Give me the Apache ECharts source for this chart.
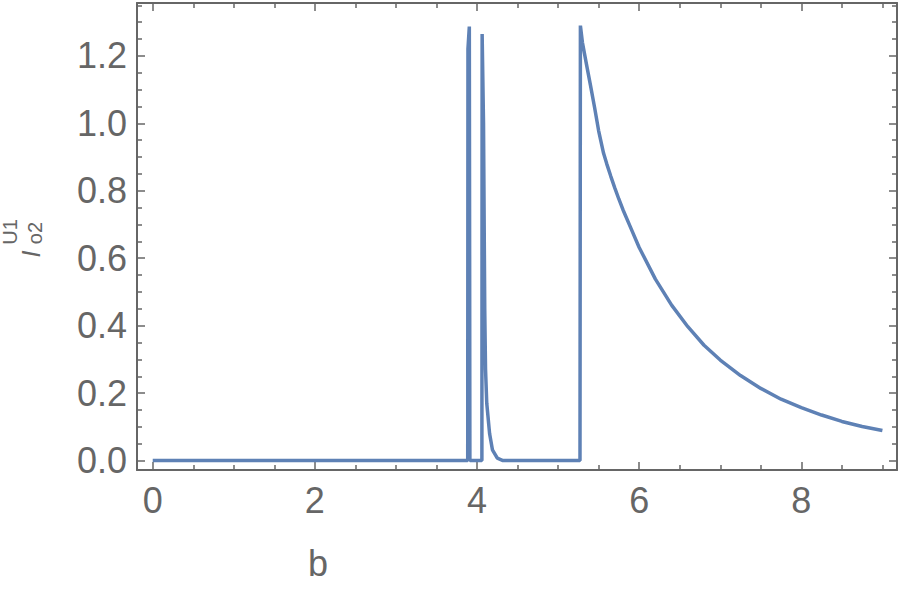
<!DOCTYPE html>
<html>
<head>
<meta charset="utf-8">
<script src="https://cdn.jsdelivr.net/npm/echarts@6/dist/echarts.min.js"></script>
<style>
  html, body { margin: 0; padding: 0; background: #fff; }
  #chart { width: 900px; height: 590px; }
</style>
</head>
<body>
<div id="chart"></div>
<script>
// curve: b on x, I on y
var bValues = [0, 3.885, 3.888, 3.905, 3.912, 4.06, 4.063, 4.08, 4.095, 4.105, 4.12, 4.155, 4.19, 4.25, 4.32,
	5.27, 5.275, 5.3, 5.35, 5.4, 5.45, 5.5, 5.56, 5.6, 5.65, 5.7, 5.75, 5.8, 5.9, 6.0, 6.2, 6.4, 6.6, 6.8, 7.0,
	7.25, 7.5, 7.75, 8.0, 8.25, 8.5, 8.75, 9.0];
var iValues = [0, 0, 1.22, 1.287, 0, 0, 1.265, 1.0, 0.45, 0.27, 0.17, 0.08, 0.032, 0.007, 0,
	0, 1.29, 1.24, 1.175, 1.112, 1.047, 0.978, 0.912, 0.88, 0.843, 0.808, 0.775, 0.744, 0.688, 0.632, 0.538, 0.461, 0.397, 0.342, 0.298,
	0.252, 0.214, 0.182, 0.157, 0.135, 0.116, 0.101, 0.089];

// ticks
var xMajorTicks = [0, 2, 4, 6, 8];
var xMinorTicks = [0.5, 1, 1.5, 2.5, 3, 3.5, 4.5, 5, 5.5, 6.5, 7, 7.5, 8.5, 9];
var yMajorTicks = [0, 0.2, 0.4, 0.6, 0.8, 1.0, 1.2];
var yMinorTicks = [0.05, 0.1, 0.15, 0.25, 0.3, 0.35, 0.45, 0.5, 0.55, 0.65, 0.7, 0.75,
	0.85, 0.9, 0.95, 1.05, 1.1, 1.15, 1.25, 1.3, 1.35];

var xRange = [-0.194, 9.18];
var yRange = [-0.028, 1.357];

var gray = '#666666';
var lineBlue = '#5E81B5';
var fontName = '"Liberation Sans", Arial, sans-serif';

function frameAxis(range, position, ticks, tickLen, withLine, withLabels, fmt) {
	return {
		type: 'value',
		min: range[0],
		max: range[1],
		position: position,
		axisLine: { show: withLine, onZero: false, lineStyle: { color: gray, width: 2 } },
		axisTick: {
			show: ticks != null,
			inside: true,
			length: tickLen,
			customValues: ticks || [],
			lineStyle: { color: gray, width: 1.5 }
		},
		axisLabel: {
			show: withLabels,
			customValues: ticks || [],
			color: gray,
			fontSize: 36,
			fontFamily: fontName,
			margin: position == 'bottom' ? 12 : 10,
			formatter: fmt
		},
		splitLine: { show: false }
	};
}

// y title I^U1_o2 is built from three axis names on the left side
function titlePart(axis, text, size, italic, gap, pad) {
	axis.name = text;
	axis.nameLocation = 'middle';
	axis.nameRotate = 90;
	axis.nameGap = gap;
	axis.nameTextStyle = {
		color: gray,
		fontSize: size,
		fontFamily: fontName,
		fontStyle: italic ? 'italic' : 'normal',
		padding: pad
	};
	return axis;
}

var data = bValues.map(function (b, i) { return [b, iValues[i]]; });

var chart = echarts.init(document.getElementById('chart'), null, { renderer: 'svg' });
var option = {
	animation: false,
	backgroundColor: '#fff',
	grid: { left: 137, right: 3, top: 3, bottom: 120, containLabel: false, outerBoundsMode: 'none' },
	xAxis: [
		frameAxis(xRange, 'bottom', xMajorTicks, 8, true, true, function (v) { return String(Math.round(v)); }),
		frameAxis(xRange, 'bottom', xMinorTicks, 5, false, false),
		frameAxis(xRange, 'top', xMajorTicks, 8, true, false),
		frameAxis(xRange, 'top', xMinorTicks, 5, false, false)
	],
	yAxis: [
		titlePart(frameAxis(yRange, 'left', yMajorTicks, 8, true, true, function (v) { return v.toFixed(1); }),
			'I', 25, true, 94, [0, 35, 0, 0]),
		titlePart(frameAxis(yRange, 'left', yMinorTicks, 5, false, false), 'U1', 20, false, 117, [0, 0, 0, 9]),
		frameAxis(yRange, 'right', yMajorTicks, 8, true, false),
		frameAxis(yRange, 'right', yMinorTicks, 5, false, false),
		titlePart(frameAxis(yRange, 'left', null, 0, false, false), 'o2', 20, false, 92, [0, 0, 0, 7])
	],
	series: [{
		type: 'line',
		xAxisIndex: 0,
		yAxisIndex: 0,
		data: data,
		showSymbol: false,
		symbol: 'none',
		lineStyle: { color: lineBlue, width: 3.5, join: 'bevel' }
	}],
	graphic: [
		{
			type: 'text',
			x: 318,
			y: 563,
			style: {
				text: 'b',
				font: '36px ' + fontName,
				fill: gray,
				align: 'center',
				verticalAlign: 'middle'
			}
		}
	]
};
chart.setOption(option);
</script>
</body>
</html>
